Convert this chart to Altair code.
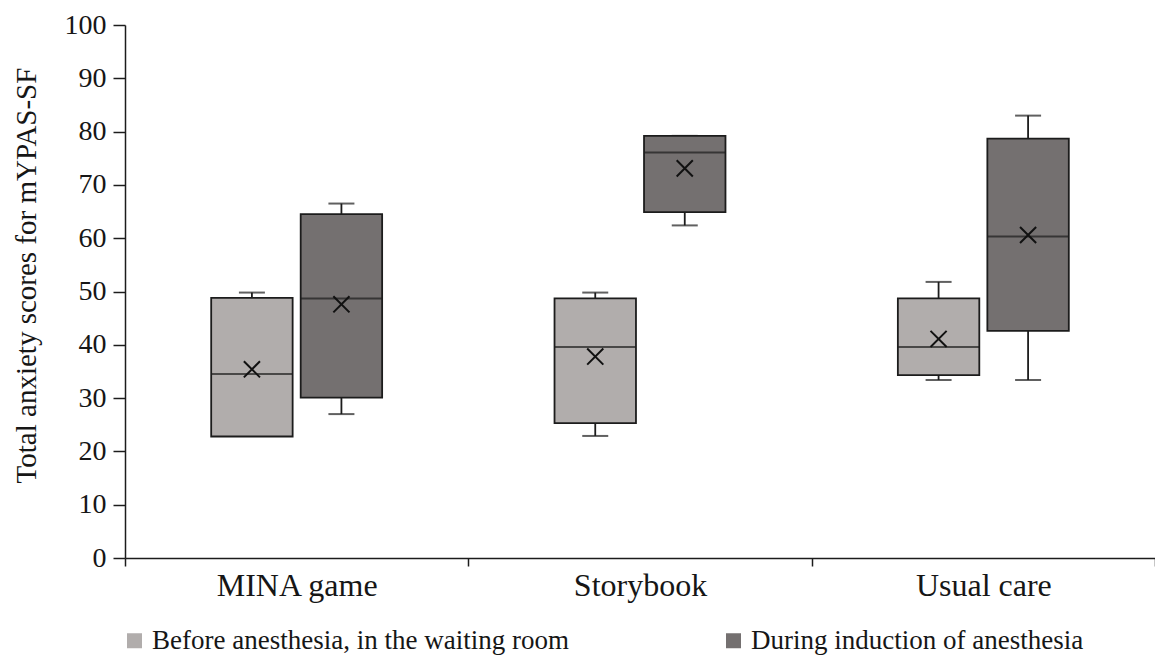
import altair as alt
import pandas as pd

groups = ["MINA game", "Storybook", "Usual care"]
phases = ["Before anesthesia, in the waiting room", "During induction of anesthesia"]

# order: for each group -> [before, during]
whisker_low = [[22.9, 27.0], [22.9, 62.4], [33.4, 33.4]]
q1_vals = [[22.8, 30.1], [25.3, 64.9], [34.3, 42.6]]
median_vals = [[34.5, 48.7], [39.6, 76.1], [39.6, 60.3]]
q3_vals = [[48.8, 64.5], [48.7, 79.2], [48.7, 78.7]]
whisker_high = [[49.8, 66.5], [49.8, 79.2], [51.8, 83.0]]
mean_vals = [[35.4, 47.6], [37.8, 73.1], [41.1, 60.6]]

y_ticks = list(range(0, 101, 10))
fill_colors = ["#b1adac", "#747070"]

rows = []
for gi, g in enumerate(groups):
    for pi, p in enumerate(phases):
        rows.append(dict(group=g, phase=p,
                         wlo=whisker_low[gi][pi], q1=q1_vals[gi][pi],
                         med=median_vals[gi][pi], q3=q3_vals[gi][pi],
                         whi=whisker_high[gi][pi], mean=mean_vals[gi][pi]))
df = pd.DataFrame(rows)

FONT = "Liberation Serif"
TXT = "#161616"
LINE = "#1c1c1c"

x_enc = alt.X("group:N", sort=groups,
              scale=alt.Scale(paddingInner=0, paddingOuter=0),
              axis=alt.Axis(title=None, labelAngle=0, tickBand="extent",
                            labelFontSize=32, labelPadding=4, tickSize=8,
                            labelColor=TXT, domainColor=LINE, tickColor=LINE,
                            domainWidth=1.5, tickWidth=1.5))
xo_enc = alt.XOffset("phase:N", sort=phases,
                     scale=alt.Scale(paddingInner=0.09, paddingOuter=0.963))
y_scale = alt.Scale(domain=[0, 100], nice=False)

base = alt.Chart(df)

boxes = base.mark_bar(stroke=LINE, strokeWidth=1.8).encode(
    x=x_enc, xOffset=xo_enc,
    y=alt.Y("q1:Q", scale=y_scale,
            axis=alt.Axis(title="Total anxiety scores for mYPAS-SF", values=y_ticks,
                          grid=False, labelFontSize=28, labelPadding=7,
                          tickSize=12, titleFontSize=29, titleFontWeight="normal",
                          titlePadding=23, titleY=250, labelColor=TXT, titleColor=TXT,
                          domainColor=LINE, tickColor=LINE,
                          domainWidth=1.5, tickWidth=1.5)),
    y2="q3:Q",
    color=alt.Color("phase:N", sort=phases,
                    scale=alt.Scale(domain=phases, range=fill_colors),
                    legend=alt.Legend(title=None, orient="none", direction="horizontal",
                                      columns=2, legendX=-4, legendY=602,
                                      symbolType="square", symbolSize=225,
                                      symbolStrokeWidth=0, symbolOpacity=1,
                                      labelFontSize=27, labelLimit=0,
                                      labelOffset=4, columnPadding=151,
                                      labelColor=TXT)),
)

whisk_lo = base.mark_rule(color=LINE, strokeWidth=1.8).encode(
    x=x_enc, xOffset=xo_enc, y=alt.Y("wlo:Q", scale=y_scale), y2="q1:Q")
whisk_hi = base.mark_rule(color=LINE, strokeWidth=1.8).encode(
    x=x_enc, xOffset=xo_enc, y=alt.Y("q3:Q", scale=y_scale), y2="whi:Q")
cap_lo = base.mark_tick(color=LINE, size=26, thickness=2).encode(
    x=x_enc, xOffset=xo_enc, y=alt.Y("wlo:Q", scale=y_scale))
cap_hi = base.mark_tick(color=LINE, size=26, thickness=2).encode(
    x=x_enc, xOffset=xo_enc, y=alt.Y("whi:Q", scale=y_scale))
medians = base.mark_tick(color=LINE, size=81, thickness=2).encode(
    x=x_enc, xOffset=xo_enc, y=alt.Y("med:Q", scale=y_scale))
means = base.mark_point(shape="M-1,-1L1,1M-1,1L1,-1", size=260, filled=False,
                        stroke="#111111", strokeWidth=2, opacity=1).encode(
    x=x_enc, xOffset=xo_enc, y=alt.Y("mean:Q", scale=y_scale))

chart = alt.layer(whisk_lo, whisk_hi, cap_lo, cap_hi, boxes, medians, means).properties(
    width=1030, height=533,
    autosize=alt.AutoSizeParams(type="none"),
    padding={"left": 117, "top": 17, "right": 0, "bottom": 97},
).configure(font=FONT).configure_view(stroke=None)

chart.save("out.html", embed_options={"renderer": "svg", "actions": False})
